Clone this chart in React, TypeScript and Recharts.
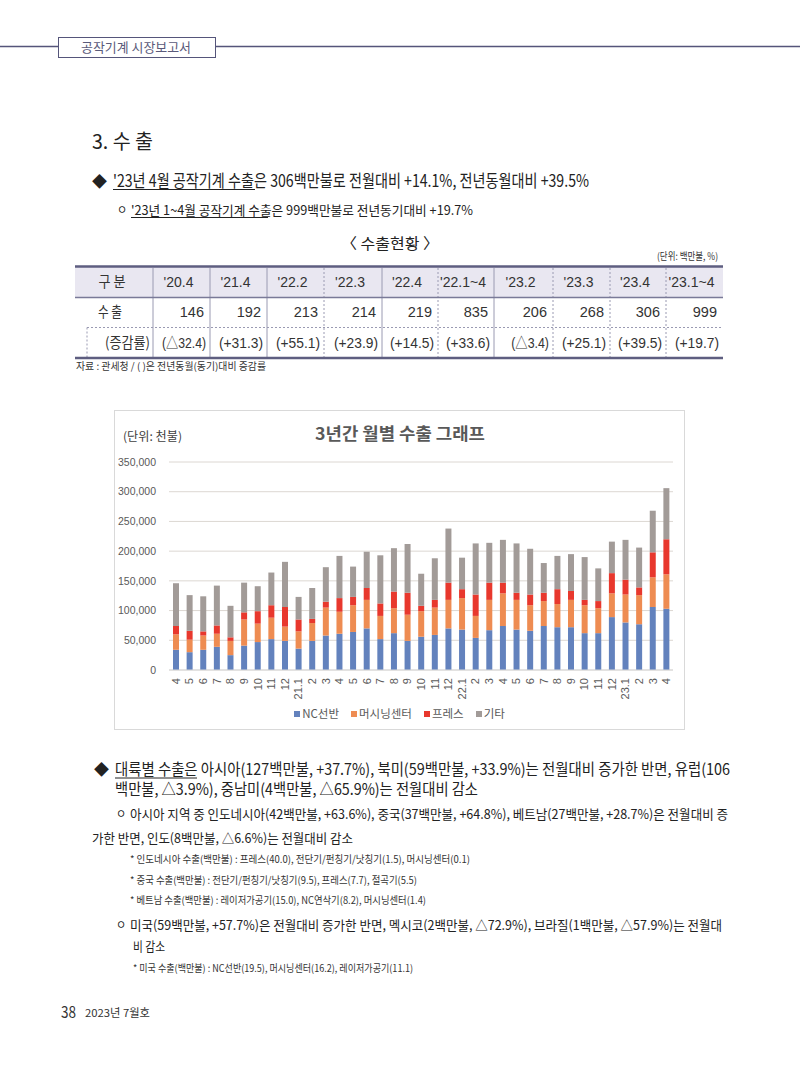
import { BarChart, Bar, XAxis, YAxis, CartesianGrid, Legend } from "recharts"

const KR = '"Noto Sans CJK KR", sans-serif'
const NUM = '"Liberation Sans", "Noto Sans CJK KR", sans-serif'

// 3년간 월별 수출 (단위: 천불)
const months = [
  "4", "5", "6", "7", "8", "9", "10", "11", "12",
  "21.1", "2", "3", "4", "5", "6", "7", "8", "9", "10", "11", "12",
  "22.1", "2", "3", "4", "5", "6", "7", "8", "9", "10", "11", "12",
  "23.1", "2", "3", "4",
]
const ncLathe = [
  34000, 30000, 34000, 39000, 25000, 41000, 47000, 52000, 49000,
  36000, 49000, 58000, 61000, 64000, 70000, 52000, 62000, 49000, 56000, 59000, 70000,
  68000, 54000, 67000, 74000, 68000, 66000, 74000, 72000, 72000, 62000, 62000, 89000,
  80000, 77000, 106000, 103000,
]
const machiningCenter = [
  26000, 21000, 24000, 22000, 24000, 44000, 31000, 36000, 24000,
  29000, 30000, 47000, 37000, 45000, 48000, 39000, 42000, 44000, 43000, 46000, 48000,
  53000, 37000, 51000, 55000, 50000, 43000, 42000, 39000, 46000, 47000, 42000, 40000,
  47000, 49000, 50000, 58000,
]
const press = [
  14000, 15000, 7000, 14000, 6000, 12000, 21000, 21000, 33000,
  20000, 7000, 10000, 23000, 14000, 20000, 21000, 28000, 37000, 9000, 13000, 29000,
  15000, 36000, 29000, 18000, 12000, 18000, 14000, 25000, 15000, 9000, 12000, 34000,
  25000, 13000, 42000, 59000,
]
const others = [
  72000, 60000, 59000, 67000, 53000, 50000, 42000, 55000, 76000,
  38000, 52000, 58000, 71000, 51000, 61000, 81000, 73000, 82000, 54000, 70000, 91000,
  53000, 86000, 67000, 72000, 83000, 77000, 50000, 56000, 62000, 72000, 55000, 53000,
  67000, 67000, 70000, 86000,
]
const yTicks = [0, 50000, 100000, 150000, 200000, 250000, 300000, 350000]
const seriesNames = ["NC선반", "머시닝센터", "프레스", "기타"]

// 수출현황 표 (단위: 백만불, %)
const tableHeads = ["'20.4", "'21.4", "'22.2", "'22.3", "'22.4", "'22.1~4", "'23.2", "'23.3", "'23.4", "'23.1~4"]
const tableExports = ["146", "192", "213", "214", "219", "835", "206", "268", "306", "999"]
const tableGrowth = ["(△32.4)", "(+31.3)", "(+55.1)", "(+23.9)", "(+14.5)", "(+33.6)", "(△3.4)", "(+25.1)", "(+39.5)", "(+19.7)"]

const data = months.map((m, i) => ({
  month: m,
  NC선반: ncLathe[i],
  머시닝센터: machiningCenter[i],
  프레스: press[i],
  기타: others[i],
}))

const colX = [75, 153, 210, 267, 324, 382, 438, 494, 553, 610, 666, 723]
const solidCols = [153, 210, 267, 382, 494]

type TProps = {
  x: number
  y: number
  size: number
  w?: number
  anchor?: "start" | "middle" | "end"
  weight?: number
  fill?: string
  family?: string
  children: React.ReactNode
}

function T({ x, y, size, w, anchor = "start", weight = 400, fill = "#222", family = KR, children }: TProps) {
  return (
    <text
      x={x}
      y={y}
      fontSize={size}
      textLength={w}
      lengthAdjust={w ? "spacingAndGlyphs" : undefined}
      textAnchor={anchor}
      fontWeight={weight}
      fill={fill}
      fontFamily={family}
    >
      {children}
    </text>
  )
}

const XTick = (props: any) => {
  const { x, y, payload } = props
  return (
    <g transform={`translate(${x},${y})`}>
      <text transform="rotate(-90)" textAnchor="end" dy={4} fontSize={11} fill="#595959" fontFamily={NUM}>
        {payload.value}
      </text>
    </g>
  )
}

const LegendContent = (props: any) => {
  const items = [...(props.payload ?? [])].sort(
    (a: any, b: any) => seriesNames.indexOf(a.value) - seriesNames.indexOf(b.value)
  )
  return (
    <div
      style={{
        display: "flex",
        justifyContent: "center",
        gap: 12,
        fontSize: 11.5,
        lineHeight: "17px",
        fontFamily: KR,
        color: "#595959",
      }}
    >
      {items.map((it: any) => (
        <span key={it.value} style={{ display: "flex", alignItems: "center", gap: 2 }}>
          <span style={{ width: 6, height: 6, background: it.color, display: "inline-block" }} />
          {it.value}
        </span>
      ))}
    </div>
  )
}

function Page() {
  return (
    <svg width={800} height={1070} style={{ position: "absolute", left: 0, top: 0 }}>
      {/* header */}
      <line x1={0} y1={46.5} x2={800} y2={46.5} stroke="#55557a" strokeWidth={1.5} />
      <rect x={58.5} y={37.5} width={157} height={20} fill="#fff" stroke="#55557a" strokeWidth={1} />
      <T x={136} y={52} size={13} w={110} anchor="middle" fill="#5a5a7a">공작기계 시장보고서</T>

      <T x={92} y={149} size={20} w={61}>3. 수 출</T>
      <T x={92} y={187} size={15}>◆</T>
      <T x={113} y={187} size={17} w={476}>
        '23년 4월 공작기계 수출은 306백만불로 전월대비 +14.1%, 전년동월대비 +39.5%
      </T>
      <line x1={113} y1={189.5} x2={255} y2={189.5} stroke="#222" strokeWidth={1} />
      <T x={117} y={214} size={11}>ㅇ</T>
      <T x={131} y={215} size={13} w={342}>
        '23년 1~4월 공작기계 수출은 999백만불로 전년동기대비 +19.7%
      </T>
      <line x1={131} y1={217.5} x2={268} y2={217.5} stroke="#222" strokeWidth={1} />

      <T x={390} y={249} size={15} w={98} anchor="middle">〈 수출현황 〉</T>
      <T x={718} y={260} size={10} w={61} anchor="end" fill="#333">(단위: 백만불, %)</T>

      {/* table */}
      <rect x={75} y={267} width={648} height={30} fill="#e9e7f1" />
      {colX.slice(1, -1).map((cx) =>
        solidCols.includes(cx) ? (
          <line key={cx} x1={cx} y1={268} x2={cx} y2={357} stroke="#9a9ab2" strokeWidth={1} />
        ) : (
          <line key={cx} x1={cx} y1={268} x2={cx} y2={357} stroke="#9a9ab2" strokeWidth={1} strokeDasharray="2 2" />
        )
      )}
      <line x1={87} y1={327.5} x2={87} y2={357} stroke="#9a9ab2" strokeDasharray="2 2" />
      <line x1={87} y1={327.5} x2={723} y2={327.5} stroke="#9a9ab2" strokeDasharray="2 2" />
      <line x1={75} y1={297.5} x2={723} y2={297.5} stroke="#7a7a98" strokeWidth={1.5} />
      <line x1={75} y1={266.5} x2={723} y2={266.5} stroke="#5e5e80" strokeWidth={2.5} />
      <line x1={75} y1={358} x2={723} y2={358} stroke="#5e5e80" strokeWidth={2.5} />

      <T x={112} y={287} size={14.5} w={27} anchor="middle" fill="#333">구 분</T>
      <T x={98} y={317} size={14.5} w={24} fill="#333">수 출</T>
      <T x={105} y={348} size={14.5} w={45} fill="#333">(증감률)</T>
      {tableHeads.map((h, i) => (
        <T key={h} x={(colX[i + 1] + colX[i + 2]) / 2 - 3} y={287} size={14} anchor="middle" family={NUM} fill="#333">
          {h}
        </T>
      ))}
      {tableExports.map((v, i) => (
        <T key={i} x={colX[i + 2] - 6} y={317} size={14.5} anchor="end" family={NUM} fill="#333">
          {v}
        </T>
      ))}
      {tableGrowth.map((v, i) => (
        <T key={i} x={colX[i + 2] - 4} y={348} size={14.5} w={v.length * 6.3} anchor="end" family={NUM} fill="#333">
          {v}
        </T>
      ))}
      <T x={76} y={370} size={10} w={190} fill="#333">자료 : 관세청 / ( )은 전년동월(동기)대비 증감률</T>

      {/* chart title */}
      <T x={400} y={440} size={17} w={170} anchor="middle" weight={700} fill="#595959">3년간 월별 수출 그래프</T>
      <T x={123} y={441} size={12} w={59} fill="#404040">(단위: 천불)</T>

      {/* text below */}
      <T x={94} y={775} size={15}>◆</T>
      <T x={115} y={775} size={15.5} w={615}>
        대륙별 수출은 아시아(127백만불, +37.7%), 북미(59백만불, +33.9%)는 전월대비 증가한 반면, 유럽(106
      </T>
      <line x1={115} y1={778} x2={197} y2={778} stroke="#222" strokeWidth={1} />
      <T x={115} y={795} size={15.5} w={363}>백만불, △3.9%), 중남미(4백만불, △65.9%)는 전월대비 감소</T>
      <T x={116} y={818} size={11}>ㅇ</T>
      <T x={130} y={819} size={13} w={598}>
        아시아 지역 중 인도네시아(42백만불, +63.6%), 중국(37백만불, +64.8%), 베트남(27백만불, +28.7%)은 전월대비 증
      </T>
      <T x={92} y={843} size={13} w={261}>가한 반면, 인도(8백만불, △6.6%)는 전월대비 감소</T>
      <T x={130} y={863} size={10} w={340} fill="#333">
        * 인도네시아 수출(백만불) : 프레스(40.0), 전단기/펀칭기/낫칭기(1.5), 머시닝센터(0.1)
      </T>
      <T x={130} y={884} size={10} w={287} fill="#333">
        * 중국 수출(백만불) : 전단기/펀칭기/낫칭기(9.5), 프레스(7.7), 절곡기(5.5)
      </T>
      <T x={130} y={904} size={10} w={296} fill="#333">
        * 베트남 수출(백만불) : 레이저가공기(15.0), NC연삭기(8.2), 머시닝센터(1.4)
      </T>
      <T x={116} y={929} size={11}>ㅇ</T>
      <T x={130} y={930} size={13} w={592}>
        미국(59백만불, +57.7%)은 전월대비 증가한 반면, 멕시코(2백만불, △72.9%), 브라질(1백만불, △57.9%)는 전월대
      </T>
      <T x={133} y={951} size={13} w={32}>비 감소</T>
      <T x={133} y={972} size={10} w={280} fill="#333">
        * 미국 수출(백만불) : NC선반(19.5), 머시닝센터(16.2), 레이저가공기(11.1)
      </T>

      {/* footer */}
      <T x={61} y={1018} size={16} w={15} fill="#333">38</T>
      <T x={85} y={1017} size={11} w={65} fill="#333">2023년 7월호</T>
    </svg>
  )
}

export default function App() {
  return (
    <div style={{ position: "absolute", left: 0, top: 0, width: 800, height: 1070, background: "#fff", overflow: "hidden" }}>
      <Page />
      <div
        style={{
          position: "absolute",
          left: 114,
          top: 410,
          width: 569,
          height: 318,
          border: "1px solid #d9d9d9",
        }}
      >
        <BarChart width={569} height={318} data={data} margin={{ top: 51, right: 11, left: 0, bottom: 19 }}>
          <CartesianGrid vertical={false} stroke="#dcd7d2" />
          <XAxis
            dataKey="month"
            interval={0}
            tick={<XTick />}
            tickLine={false}
            axisLine={{ stroke: "#d9d9d9" }}
            height={40}
          />
          <YAxis
            width={54}
            domain={[0, 350000]}
            ticks={yTicks}
            tickFormatter={(v: number) => v.toLocaleString("en-US")}
            axisLine={false}
            tickLine={false}
            tickMargin={7}
            tick={{ fontSize: 10.5, fill: "#595959", fontFamily: NUM }}
          />
          <Legend
            layout="horizontal"
            verticalAlign="middle"
            align="center"
            wrapperStyle={{ top: 294, left: 0, width: 569 }}
            content={<LegendContent />}
          />
          <Bar dataKey="NC선반" stackId="a" fill="#6382bd" barSize={6} isAnimationActive={false} />
          <Bar dataKey="머시닝센터" stackId="a" fill="#ee8c52" barSize={6} isAnimationActive={false} />
          <Bar dataKey="프레스" stackId="a" fill="#e8382d" barSize={6} isAnimationActive={false} />
          <Bar dataKey="기타" stackId="a" fill="#a29b98" barSize={6} isAnimationActive={false} />
        </BarChart>
      </div>
    </div>
  )
}
